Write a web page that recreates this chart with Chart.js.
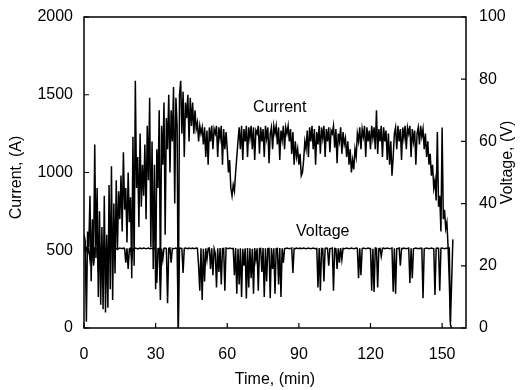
<!DOCTYPE html>
<html>
<head>
<meta charset="utf-8">
<script src="https://cdn.jsdelivr.net/npm/chart.js@4"></script>
<style>
  html, body { margin: 0; padding: 0; background: #fff; }
  #wrap { width: 524px; height: 390px; position: relative; }
</style>
</head>
<body>
<div id="wrap"><canvas id="weld-chart"></canvas></div>
<script>
// time in minutes, one sample every half minute
const times = [
  0, 0.5, 1, 1.5, 2, 2.5, 3, 3.5, 4, 4.5,
  5, 5.5, 6, 6.5, 7, 7.5, 8, 8.5, 9, 9.5,
  10, 10.5, 11, 11.5, 12, 12.5, 13, 13.5, 14, 14.5,
  15, 15.5, 16, 16.5, 17, 17.5, 18, 18.5, 19, 19.5,
  20, 20.5, 21, 21.5, 22, 22.5, 23, 23.5, 24, 24.5,
  25, 25.5, 26, 26.5, 27, 27.5, 28, 28.5, 29, 29.5,
  30, 30.5, 31, 31.5, 32, 32.5, 33, 33.5, 34, 34.5,
  35, 35.5, 36, 36.5, 37, 37.5, 38, 38.5, 39, 39.5,
  40, 40.5, 41, 41.5, 42, 42.5, 43, 43.5, 44, 44.5,
  45, 45.5, 46, 46.5, 47, 47.5, 48, 48.5, 49, 49.5,
  50, 50.5, 51, 51.5, 52, 52.5, 53, 53.5, 54, 54.5,
  55, 55.5, 56, 56.5, 57, 57.5, 58, 58.5, 59, 59.5,
  60, 60.5, 61, 61.5, 62, 62.5, 63, 63.5, 64, 64.5,
  65, 65.5, 66, 66.5, 67, 67.5, 68, 68.5, 69, 69.5,
  70, 70.5, 71, 71.5, 72, 72.5, 73, 73.5, 74, 74.5,
  75, 75.5, 76, 76.5, 77, 77.5, 78, 78.5, 79, 79.5,
  80, 80.5, 81, 81.5, 82, 82.5, 83, 83.5, 84, 84.5,
  85, 85.5, 86, 86.5, 87, 87.5, 88, 88.5, 89, 89.5,
  90, 90.5, 91, 91.5, 92, 92.5, 93, 93.5, 94, 94.5,
  95, 95.5, 96, 96.5, 97, 97.5, 98, 98.5, 99, 99.5,
  100, 100.5, 101, 101.5, 102, 102.5, 103, 103.5, 104, 104.5,
  105, 105.5, 106, 106.5, 107, 107.5, 108, 108.5, 109, 109.5,
  110, 110.5, 111, 111.5, 112, 112.5, 113, 113.5, 114, 114.5,
  115, 115.5, 116, 116.5, 117, 117.5, 118, 118.5, 119, 119.5,
  120, 120.5, 121, 121.5, 122, 122.5, 123, 123.5, 124, 124.5,
  125, 125.5, 126, 126.5, 127, 127.5, 128, 128.5, 129, 129.5,
  130, 130.5, 131, 131.5, 132, 132.5, 133, 133.5, 134, 134.5,
  135, 135.5, 136, 136.5, 137, 137.5, 138, 138.5, 139, 139.5,
  140, 140.5, 141, 141.5, 142, 142.5, 143, 143.5, 144, 144.5,
  145, 145.5, 146, 146.5, 147, 147.5, 148, 148.5, 149, 149.5,
  150, 150.5, 151, 151.5, 152, 152.5, 153, 153.5, 154, 154.5
]

// current, A (left axis)
const current = [
  600, 560, 40, 620, 520, 850, 300, 700, 420, 1180,
  450, 900, 200, 750, 150, 650, 120, 850, 100, 600,
  130, 920, 250, 1040, 180, 800, 350, 950, 500, 880,
  700, 980, 620, 1130, 760, 900, 550, 1000, 680, 840,
  320, 1230, 400, 1590, 900, 1100, 650, 1250, 780, 1050,
  850, 1180, 700, 1300, 950, 1480, 520, 1200, 380, 1050,
  250, 1150, 900, 1400, 300, 1300, 1050, 1450, 600, 1350,
  1150, 1500, 1000, 1400, 1200, 1550, 800, 1480, 1300, 0,
  1500, 1590, 1250, 1520, 1100, 1450, 1350, 1500, 1200, 1480,
  1300, 1450, 1250, 1400, 1280, 1320, 1200, 1300, 1250, 1290,
  1180, 1290, 1100, 1270, 1050, 1290, 1200, 1300, 1150, 1280,
  1250, 1300, 1100, 1290, 1220, 1300, 1050, 1280, 1150, 1260,
  1150, 1000, 1080, 900, 850, 920, 880, 1000, 1100, 1200,
  1290, 1150, 1300, 1080, 1280, 1200, 1300, 1100, 1290, 1220,
  1300, 1150, 1290, 1080, 1270, 1250, 1300, 1120, 1290, 1200,
  1280, 1100, 1300, 1220, 1290, 1060, 1250, 1290, 1150, 1300,
  1250, 1300, 1180, 1290, 1080, 1270, 1210, 1300, 1150, 1290,
  1250, 1300, 1200, 1280, 1120, 1260, 1050, 1200, 1100, 1150,
  1050, 1120, 980, 1000, 1080, 1200, 1150, 1270, 1100, 1290,
  1200, 1300, 1150, 1280, 1050, 1260, 1180, 1300, 1120, 1290,
  1220, 1300, 1100, 1280, 1200, 1290, 1130, 1270, 1250, 1300,
  1160, 1280, 1060, 1250, 1200, 1290, 1120, 1260, 1180, 1220,
  1100, 1200, 1050, 1150, 1000, 1080, 1020, 1150, 1100, 1250,
  1200, 1290, 1150, 1280, 1230, 1300, 1100, 1290, 1200, 1270,
  1150, 1300, 1220, 1290, 1150, 1400, 1120, 1280, 1200, 1300,
  1100, 1290, 1200, 1270, 1080, 1250, 1050, 1200, 980, 1100,
  1250, 1290, 1150, 1300, 1200, 1280, 1080, 1290, 1220, 1300,
  1150, 1290, 1250, 1300, 1100, 1280, 1200, 1270, 1050, 1250,
  1290, 1180, 1300, 1230, 1280, 1150, 1250, 1100, 1200, 1050,
  1120, 980, 1050, 900, 950, 820, 1260, 780, 850, 620,
  1290, 700, 760, 640, 680, 520, 300, 20, 0, null
]

// voltage, V (right axis)
const voltage = [
  26, 25.5, 25.8, 24, 25.6, 22, 25.8, 25.5, 20, 25.7,
  25.6, 25.5, 18, 25.7, 25.6, 25.4, 25.8, 21, 25.6, 25.5,
  25.7, 25.6, 25.5, 25.8, 25.6, 25.5, 25.7, 25.6, 25.6, 25.5,
  25.7, 25.6, 25.5, 25.7, 25.6, 21, 25.6, 19, 25.5, 25.7,
  22, 25.6, 25.5, 25.7, 25.6, 25.4, 25.6, 25.7, 25.5, 25.6,
  25.7, 25.6, 25.5, 25.6, 25.7, 25.5, 25.6, 25.6, 25.4, 25.7,
  25.6, 14.5, 25.5, 25.6, 9, 25.5, 22, 25.6, 25.7, 25.5,
  8, 25.6, 25.7, 21, 25.6, 25.5, 25.6, 25.7, 25.5, 0,
  25.6, 25.7, 25.5, 17.7, 25.6, 25.7, 25.6, 25.5, 25.7, 25.6,
  25.6, 25.7, 25.5, 25.6, 25.7, 25.6, 20, 12, 25.6, 9,
  25.5, 15, 25.6, 22, 25.6, 25.7, 19, 25.6, 17, 25.5,
  24, 13, 25.6, 18, 25.7, 14, 25.5, 25.6, 12, 25.7,
  25.6, 25.5, 25.7, 25.6, 25.5, 25.6, 17, 25.7, 11, 25.5,
  14, 25.6, 10, 25.5, 20, 25.6, 9.5, 25.7, 13, 25.6,
  16, 25.5, 11, 25.7, 22, 25.6, 12, 25.5, 25.6, 18,
  25.7, 10, 25.6, 15, 25.5, 25.6, 9.6, 25.7, 19, 25.6,
  11, 25.5, 25.6, 14, 25.7, 10, 25.6, 21, 25.5, 25.6,
  25.7, 25.6, 25.5, 25.6, 25.7, 17.7, 25.6, 25.5, 25.7, 25.6,
  25.6, 25.7, 25.5, 25.6, 25.7, 25.6, 25.5, 25.6, 25.7, 25.6,
  25.5, 25.6, 25.7, 25.6, 25.5, 25.6, 13, 25.7, 12, 25.6,
  25.5, 15, 25.6, 25.7, 25.6, 20, 25.5, 25.6, 25.7, 12,
  25.6, 25.5, 19, 25.6, 21, 25.7, 22, 25.6, 25.5, 25.6,
  25.7, 25.6, 25.5, 25.6, 25.7, 25.6, 25.5, 25.6, 25.7, 25.6,
  16, 25.6, 17, 25.5, 25.7, 25.6, 25.5, 25.6, 25.7, 25.6,
  25.6, 12, 25.5, 11.6, 25.7, 25.6, 13, 25.5, 25.6, 23,
  25.6, 25.7, 25.5, 25.6, 25.7, 25.6, 25.5, 25.6, 25.7, 11.7,
  25.6, 11, 25.5, 25.6, 25.7, 20, 25.6, 25.5, 25.7, 25.6,
  25.5, 25.6, 25.7, 14.5, 25.6, 16, 25.5, 25.6, 25.7, 25.6,
  25.6, 25.5, 25.7, 25.6, 9.6, 25.5, 25.6, 25.7, 25.6, 25.5,
  25.6, 25.7, 25.6, 25.5, 10.6, 25.6, 25.7, 25.6, 12, 25.6,
  25.7, 25.6, 25.5, 25.6, 25.7, 25.6, 25.7, 2, 15, 28.5
]

const xTicks = [0, 30, 60, 90, 120, 150]
const currentTicks = [0, 500, 1000, 1500, 2000]
const voltageTicks = [0, 20, 40, 60, 80, 100]

// where the in-plot series names sit, in data units
const currentLabelAt = { t: 82, amps: 1415 }
const voltageLabelAt = { t: 100, volts: 31 }

;(function(){
  const FONT = '"Liberation Sans", Arial, sans-serif'

  const toPoints = (ys) => times.map((t, i) => ({ x: t, y: ys[i] }))
  const keepTicks = (list) => (scale) => {
    scale.ticks = list.map(v => ({ value: v }))
  }
  const plain = (v) => String(v)
  // fixed axis widths, and no extra room asked for the end labels
  const fitWidth = (w) => (s) => { s.width = w; s.paddingTop = 0; s.paddingBottom = 0 }

  // box, inward ticks, series names and axis titles
  const framePlugin = {
    id: 'frame',
    afterDatasetsDraw(chart) {
      const { ctx, chartArea: a, scales } = chart
      ctx.save()
      ctx.strokeStyle = '#000'
      ctx.lineWidth = 1.5
      ctx.strokeRect(a.left, a.top, a.right - a.left, a.bottom - a.top)

      ctx.lineWidth = 1.2
      ctx.beginPath()
      xTicks.forEach(v => {
        const px = scales.x.getPixelForValue(v)
        ctx.moveTo(px, a.bottom); ctx.lineTo(px, a.bottom - 5)
      })
      currentTicks.forEach(v => {
        const py = scales.y.getPixelForValue(v)
        ctx.moveTo(a.left, py); ctx.lineTo(a.left + 5, py)
      })
      voltageTicks.forEach(v => {
        const py = scales.y2.getPixelForValue(v)
        ctx.moveTo(a.right, py); ctx.lineTo(a.right - 5, py)
      })
      ctx.stroke()

      ctx.fillStyle = '#000'
      ctx.font = '16px ' + FONT
      ctx.textAlign = 'center'
      ctx.textBaseline = 'middle'
      ctx.fillText('Current',
        scales.x.getPixelForValue(currentLabelAt.t),
        scales.y.getPixelForValue(currentLabelAt.amps))
      ctx.fillText('Voltage',
        scales.x.getPixelForValue(voltageLabelAt.t),
        scales.y2.getPixelForValue(voltageLabelAt.volts))

      // axis titles
      ctx.fillText('Time, (min)', (a.left + a.right) / 2, a.bottom + 52)
      ctx.save()
      ctx.translate(a.left - 67, (a.top + a.bottom) / 2 + 5)
      ctx.rotate(-Math.PI / 2)
      ctx.fillText('Current, (A)', 0, 0)
      ctx.restore()
      ctx.save()
      ctx.translate(a.right + 42, (a.top + a.bottom) / 2 - 10)
      ctx.rotate(-Math.PI / 2)
      ctx.fillText('Voltage, (V)', 0, 0)
      ctx.restore()
      ctx.restore()
    }
  }

  const tickFont = { family: FONT, size: 16 }

  const config = {
    type: 'line',
    data: {
      datasets: [
        {
          label: 'Current',
          data: toPoints(current),
          yAxisID: 'y',
          borderColor: '#000',
          borderWidth: 1.5,
          pointRadius: 0,
          tension: 0,
        },
        {
          label: 'Voltage',
          data: toPoints(voltage),
          yAxisID: 'y2',
          borderColor: '#000',
          borderWidth: 1.5,
          pointRadius: 0,
          tension: 0,
        },
      ],
    },
    options: {
      responsive: true,
      maintainAspectRatio: false,
      animation: false,
      layout: { padding: { top: 17, left: 0, right: 0, bottom: 0 } },
      plugins: {
        legend: { display: false },
        tooltip: { enabled: false },
      },
      scales: {
        x: {
          type: 'linear',
          min: 0,
          max: 160,
          afterBuildTicks: keepTicks(xTicks),
          afterFit: (s) => { s.height = 62; s.paddingLeft = 0; s.paddingRight = 0 },
          grid: { display: false, drawTicks: false },
          border: { display: false },
          ticks: { color: '#000', font: tickFont, padding: 17, maxRotation: 0, callback: plain },
        },
        y: {
          position: 'left',
          min: 0,
          max: 2000,
          afterBuildTicks: keepTicks(currentTicks),
          afterFit: fitWidth(84),
          grid: { display: false, drawTicks: false },
          border: { display: false },
          ticks: { color: '#000', font: tickFont, padding: 11, callback: plain },
        },
        y2: {
          position: 'right',
          min: 0,
          max: 100,
          afterBuildTicks: keepTicks(voltageTicks),
          afterFit: fitWidth(58),
          grid: { display: false, drawTicks: false },
          border: { display: false },
          ticks: { color: '#000', font: tickFont, padding: 13, callback: plain },
        },
      },
    },
    plugins: [framePlugin],
  }

  const ctx = document.getElementById('weld-chart')
  let chart = new Chart(ctx, config)
})()
</script>
</body>
</html>
